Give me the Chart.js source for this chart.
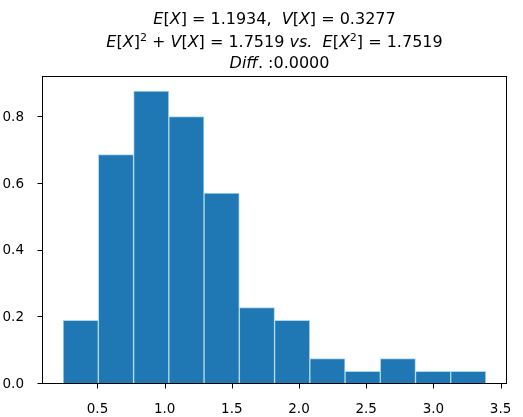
<!DOCTYPE html>
<html>
<head>
<meta charset="utf-8">
<script src="https://cdn.jsdelivr.net/npm/chart.js@4.4.0/dist/chart.umd.min.js"></script>
<style>
  html, body { margin: 0; padding: 0; background: #fff; }
  #wrap { width: 523px; height: 417px; }
</style>
</head>
<body>
<div id="wrap"><canvas id="chart"></canvas></div>
<script>
// histogram bins (edges) and density per bin
const binEdges = [0.244, 0.506, 0.769, 1.031, 1.293, 1.556, 1.818, 2.080, 2.343, 2.605, 2.867, 3.129, 3.391]
const density = [0.191, 0.688, 0.879, 0.802, 0.573, 0.229, 0.191, 0.076, 0.038, 0.076, 0.038, 0.038]
const xTicks = [0.5, 1.0, 1.5, 2.0, 2.5, 3.0, 3.5]
const yTicks = [0.0, 0.2, 0.4, 0.6, 0.8]

// title lines: [text, style]  n = upright, i = italic, s = superscript
const titleLines = [
    [["E", "i"], ["[", "n"], ["X", "i"], ["] = 1.1934,  ", "n"], ["V", "i"], ["[", "n"], ["X", "i"], ["] = 0.3277", "n"]],
    [["E", "i"], ["[", "n"], ["X", "i"], ["]", "n"], ["2", "s"], [" + ", "n"], ["V", "i"], ["[", "n"], ["X", "i"],
     ["] = 1.7519 ", "n"], ["vs.", "i"], ["  ", "n"], ["E", "i"], ["[", "n"], ["X", "i"], ["2", "s"], ["] = 1.7519", "n"]],
    [["Diff", "i"], [". :0.0000", "n"]],
]

const FONT = "'DejaVu Sans', sans-serif"

const bars = density.map((d, i) => ({ x: (binEdges[i] + binEdges[i + 1]) / 2, y: d }))

// axes box + tick marks, placed with the chart's own scales
const frame = {
    id: "frame",
    afterDraw(chart) {
        const { ctx, chartArea: a, scales } = chart
        ctx.save()
        ctx.strokeStyle = "#000"
        ctx.lineWidth = 1
        const l = Math.round(a.left) + 0.5, t = Math.round(a.top) + 0.5
        const r = Math.round(a.right) - 0.5, b = Math.round(a.bottom) - 0.5
        ctx.strokeRect(l, t, r - l, b - t)
        ctx.beginPath()
        xTicks.forEach(v => {
            const x = Math.round(scales.x.getPixelForValue(v)) + 0.5
            ctx.moveTo(x, b); ctx.lineTo(x, b + 5)
        })
        yTicks.forEach(v => {
            const y = Math.round(scales.y.getPixelForValue(v)) - 0.5
            ctx.moveTo(l, y); ctx.lineTo(l - 5, y)
        })
        ctx.stroke()
        ctx.restore()
    }
}

const mathTitle = {
    id: "mathTitle",
    afterDraw(chart) {
        const { ctx, chartArea: a } = chart
        const cx = (a.left + a.right) / 2
        const size = 16
        const baselines = [24, 47, 67.5]
        const shifts = [0, 0, 5]
        const fontFor = (st) => st === "i" ? `oblique ${size}px ${FONT}`
            : st === "s" ? `${Math.round(size * 0.7)}px ${FONT}` : `${size}px ${FONT}`
        ctx.save()
        ctx.fillStyle = "#000"
        ctx.textBaseline = "alphabetic"
        ctx.textAlign = "left"
        titleLines.forEach((line, li) => {
            let w = 0
            line.forEach(([txt, st]) => { ctx.font = fontFor(st); w += ctx.measureText(txt).width })
            let x = cx - w / 2 + shifts[li]
            line.forEach(([txt, st]) => {
                ctx.font = fontFor(st)
                const y = baselines[li] - (st === "s" ? size * 0.4 : 0)
                ctx.fillText(txt, x, y)
                x += ctx.measureText(txt).width
            })
        })
        ctx.restore()
    }
}

Chart.defaults.font.family = FONT
Chart.defaults.font.size = 13.5
Chart.defaults.color = "#000"

new Chart(document.getElementById("chart"), {
    type: "bar",
    data: {
        datasets: [{
            data: bars,
            backgroundColor: "#1f77b4",
            borderColor: "#add8e6",
            borderWidth: 1,
            borderSkipped: false,
            barPercentage: 1,
            categoryPercentage: 1,
        }]
    },
    options: {
        responsive: true,
        maintainAspectRatio: false,
        animation: false,
        layout: { padding: { top: 76, right: 16, left: 0, bottom: 0 } },
        plugins: { legend: { display: false }, tooltip: { enabled: false }, title: { display: false } },
        scales: {
            x: {
                type: "linear",
                offset: false,
                min: 0.087,
                max: 3.548,
                afterFit: (s) => { s.height = 33 },
                afterBuildTicks: (s) => { s.ticks = xTicks.map(v => ({ value: v })) },
                ticks: { callback: (v) => v.toFixed(1), padding: 9.5, maxRotation: 0, autoSkip: false },
                grid: { display: false, offset: false },
                border: { display: false },
            },
            y: {
                min: 0,
                max: 0.924,
                afterFit: (s) => { s.width = 42 },
                afterBuildTicks: (s) => { s.ticks = yTicks.map(v => ({ value: v })) },
                ticks: { callback: (v) => v.toFixed(1), padding: 10 },
                grid: { display: false },
                border: { display: false },
            }
        }
    },
    plugins: [frame, mathTitle]
})
</script>
</body>
</html>
